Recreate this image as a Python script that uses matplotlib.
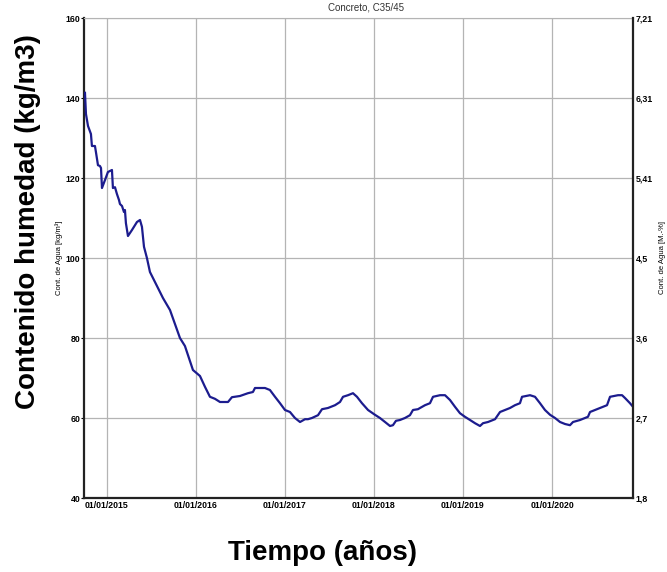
import matplotlib.pyplot as plt
import numpy as np

# time in decimal years, water content in kg/m3
t_years = [2014.753, 2014.764, 2014.787, 2014.820, 2014.831, 2014.865, 2014.876,
           2014.899, 2014.921, 2014.933, 2014.944, 2014.978, 2015.011, 2015.056,
           2015.067, 2015.090, 2015.112, 2015.135, 2015.146, 2015.169, 2015.191,
           2015.202, 2015.213, 2015.236, 2015.281, 2015.337, 2015.371, 2015.393,
           2015.416, 2015.449, 2015.483, 2015.528, 2015.573, 2015.629, 2015.708,
           2015.820, 2015.876, 2015.966, 2016.045, 2016.101, 2016.157, 2016.213,
           2016.270, 2016.360, 2016.404, 2016.494, 2016.584, 2016.640, 2016.663,
           2016.775, 2016.831, 2016.888, 2016.944, 2017.000, 2017.056, 2017.112,
           2017.169, 2017.225, 2017.258, 2017.303, 2017.371, 2017.416, 2017.483,
           2017.562, 2017.618, 2017.652, 2017.708, 2017.764, 2017.809, 2017.865,
           2017.933, 2018.011, 2018.067, 2018.124, 2018.180, 2018.213, 2018.247,
           2018.292, 2018.348, 2018.404, 2018.438, 2018.494, 2018.517, 2018.573,
           2018.629, 2018.663, 2018.742, 2018.798, 2018.854, 2018.910, 2018.966,
           2019.022, 2019.079, 2019.135, 2019.191, 2019.225, 2019.281, 2019.360,
           2019.416, 2019.472, 2019.528, 2019.584, 2019.640, 2019.663, 2019.753,
           2019.809, 2019.865, 2019.921, 2019.978, 2020.034, 2020.090, 2020.146,
           2020.202, 2020.236, 2020.315, 2020.404, 2020.427, 2020.483, 2020.539,
           2020.618, 2020.652, 2020.742, 2020.787, 2020.820, 2020.876, 2020.910]
water = [141.3, 136.0, 133.0, 131.0, 128.0, 128.0, 126.5,
         123.2, 123.0, 122.5, 117.5, 119.5, 121.5, 122.0,
         117.5, 117.7, 116.0, 114.5, 113.5, 113.0, 111.5,
         112.0, 108.7, 105.5, 107.0, 109.0, 109.5, 107.8,
         102.8, 100.0, 96.5, 94.5, 92.5, 90.0, 87.0,
         80.0, 78.0, 72.0, 70.5, 67.8, 65.3, 64.8,
         64.0, 64.0, 65.2, 65.5, 66.2, 66.5, 67.5,
         67.5, 67.0, 65.3, 63.7, 62.0, 61.5, 60.0,
         59.0, 59.7, 59.7, 60.0, 60.7, 62.2, 62.5,
         63.2, 64.0, 65.3, 65.7, 66.2, 65.3, 63.7,
         62.0, 60.8, 60.0, 59.0, 58.0, 58.2, 59.3,
         59.5, 60.0, 60.7, 62.0, 62.2, 62.5, 63.2,
         63.7, 65.3, 65.7, 65.7, 64.5, 62.8, 61.2,
         60.3, 59.5, 58.7, 58.0, 58.7, 59.0, 59.7,
         61.5, 62.0, 62.5, 63.2, 63.7, 65.3, 65.7,
         65.3, 63.7, 62.0, 60.8, 60.0, 59.0, 58.5,
         58.2, 59.0, 59.5, 60.3, 61.5, 62.0, 62.5,
         63.2, 65.3, 65.7, 65.7, 65.0, 63.7, 62.8]

year_ticks = [2015, 2016, 2017, 2018, 2019, 2020]
year_labels = ['01/01/2015', '01/01/2016', '01/01/2017', '01/01/2018',
               '01/01/2019', '01/01/2020']
left_ticks = [40, 60, 80, 100, 120, 140, 160]
right_labels = ['1,8', '2,7', '3,6', '4,5', '5,41', '6,31', '7,21']

tick_font = dict(family='Liberation Sans', weight='bold', size=6.3)

fig = plt.figure(figsize=(6.67, 5.72), dpi=100)
ax = fig.add_axes([84 / 667, 74 / 572, 549 / 667, 480 / 572])

ax.plot(t_years, water, color='#1c1c8e', lw=1.6, zorder=3)

ax.set_xlim(2014.742, 2020.910)
ax.set_ylim(40, 160)
ax.set_xticks(year_ticks)
ax.set_xticklabels(year_labels, fontdict=tick_font)
ax.set_yticks(left_ticks)
ax.set_yticklabels([str(v) for v in left_ticks], fontdict=tick_font)
ax.tick_params(axis='x', length=0, pad=2)
ax.tick_params(axis='y', length=2, width=0.8, pad=0.5)
ax.grid(True, color='#b4b4b4', lw=0.9)

for side in ['left', 'bottom']:
    ax.spines[side].set_linewidth(1.6)
    ax.spines[side].set_color('#222222')
ax.spines['top'].set_color('#b4b4b4')
ax.spines['right'].set_visible(False)

ax2 = ax.twinx()
ax2.set_ylim(1.8, 7.21)
ax2.set_yticks(np.linspace(1.8, 7.21, 7))
ax2.set_yticklabels(right_labels, fontdict=tick_font)
ax2.tick_params(axis='y', length=0, pad=2)
ax2.spines['right'].set_linewidth(1.6)
ax2.spines['right'].set_color('#222222')
for side in ['left', 'top', 'bottom']:
    ax2.spines[side].set_visible(False)

# small inner axis labels
fig.text(59 / 667, 1 - 258 / 572, 'Cont. de Agua [kg/m³]', rotation=90,
         ha='center', va='center', fontsize=5.5, family='Liberation Sans')
fig.text(662 / 667, 1 - 258 / 572, 'Cont. de Agua [M.-%]', rotation=90,
         ha='center', va='center', fontsize=5.5, family='Liberation Sans')
fig.text(366 / 667, 1 - 7 / 572, 'Concreto, C35/45', ha='center', va='center',
         fontsize=7, family='Liberation Sans', color='#333333')

# big outer labels
fig.text(28 / 667, 1 - 222 / 572, 'Contenido humedad (kg/m3)', rotation=90,
         ha='center', va='center', fontsize=20, weight='bold',
         family='Liberation Sans')
fig.text(322 / 667, 1 - 553 / 572, 'Tiempo (años)', ha='center', va='center',
         fontsize=20, weight='bold', family='Liberation Sans')

fig.savefig('out.png', dpi=100)
